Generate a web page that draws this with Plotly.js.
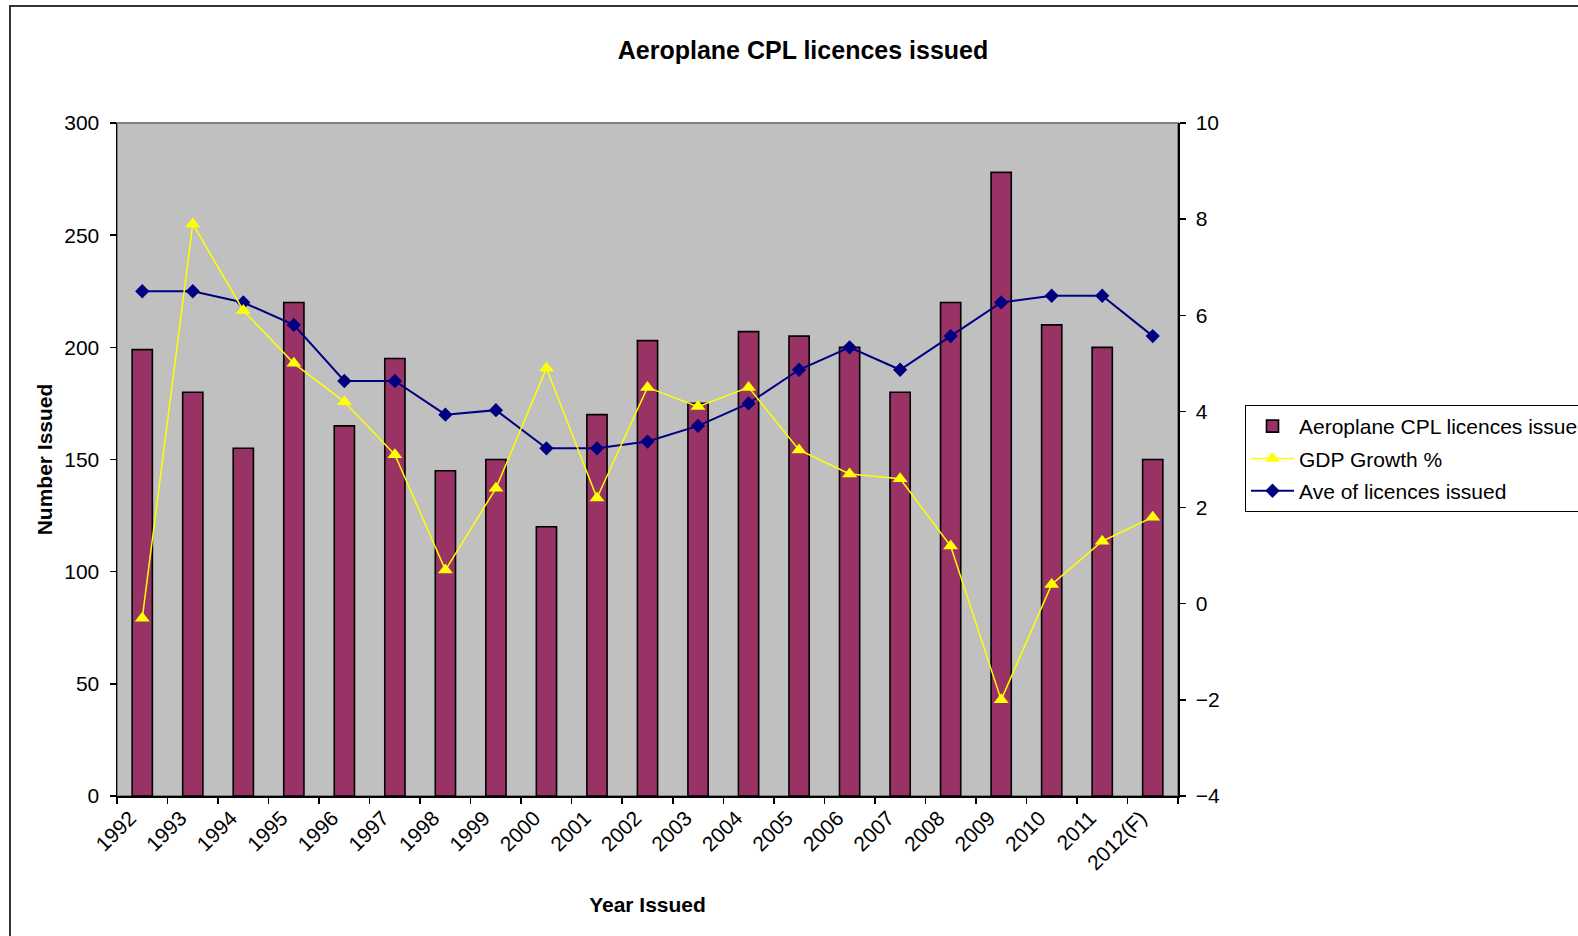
<!DOCTYPE html>
<html>
<head>
<meta charset="utf-8">
<script src="https://cdn.plot.ly/plotly-3.0.1.min.js"></script>
<style>html,body{margin:0;padding:0;background:#fff;}#chart{width:1578px;height:936px;}</style>
</head>
<body>
<div id="chart"></div>
<script>
const years = ["1992","1993","1994","1995","1996","1997","1998","1999","2000","2001","2002","2003","2004","2005","2006","2007","2008","2009","2010","2011","2012(F)"];
const licences = [199,180,155,220,165,195,145,150,120,170,203,175,207,205,200,180,220,278,210,200,150];
const gdpGrowth = [-0.3,7.9,6.1,5.0,4.2,3.1,0.7,2.4,4.9,2.2,4.5,4.1,4.5,3.2,2.7,2.6,1.2,-2.0,0.4,1.3,1.8];
const aveLicences = [225,225,220,210,185,185,170,172,155,155,158,165,175,190,200,190,205,220,223,223,205];
const leftTicks = [0,50,100,150,200,250,300];
const rightTicks = [-4,-2,0,2,4,6,8,10];

const xPos = years.map((y, i) => i + 0.5);
const labelPos = years.map((y, i) => i + 0.26);
const boundaries = years.map((y, i) => i).concat([years.length]);

const FONT = "Liberation Sans, Arial, sans-serif";

const traces = [
  {
    type: 'bar', name: 'Aeroplane CPL licences issued', legendgroup: 'g1',
    x: xPos, y: licences, yaxis: 'y',
    marker: {color: '#993366', line: {color: '#000000', width: 1.6}},
    hoverinfo: 'y'
  },
  {
    type: 'scatter', mode: 'lines+markers', name: 'GDP Growth %', legendgroup: 'g2',
    x: xPos, y: gdpGrowth, yaxis: 'y2',
    line: {color: '#FFFF00', width: 1.5},
    marker: {symbol: 'triangle-up', size: 13, color: '#FFFF00'}
  },
  {
    type: 'scatter', mode: 'lines+markers', name: 'Ave of licences issued', legendgroup: 'g3',
    x: xPos, y: aveLicences, yaxis: 'y',
    line: {color: '#000080', width: 2},
    marker: {symbol: 'diamond', size: 11, color: '#000080'}
  }
];

const L = 117, R = 1178, T = 123, B = 796, W = 1578, H = 936;
const pw = R - L, ph = B - T;
const px = v => (v - L) / pw;
const py = v => (B - v) / ph;

const layout = {
  width: W, height: H,
  margin: {l: L, r: W - R, t: T, b: H - B, pad: 0, autoexpand: false},
  paper_bgcolor: '#ffffff',
  plot_bgcolor: '#C0C0C0',
  font: {family: FONT, size: 21, color: '#000000'},
  showlegend: true,
  bargap: 0.6,
  title: {
    text: '<b>Aeroplane CPL licences issued</b>',
    font: {family: FONT, size: 25, color: '#000000'},
    xref: 'container', yref: 'container',
    x: 803 / W, y: 1 - 50 / H, xanchor: 'center', yanchor: 'middle'
  },
  xaxis: {
    range: [0, years.length],
    tickmode: 'array', tickvals: labelPos, ticktext: years,
    ticks: '', tickangle: -45,
    tickfont: {family: FONT, size: 21, color: '#000000'},
    showgrid: false, zeroline: false,
    showline: true, linecolor: '#000000', linewidth: 1.5,
    minor: {tickmode: 'array', tickvals: boundaries, ticks: 'outside', ticklen: 6, tickwidth: 1.5, tickcolor: '#000000', showgrid: false},
    title: {text: '<b>Year Issued</b>', font: {family: FONT, size: 21, color: '#000000'}, standoff: 24},
    fixedrange: true
  },
  yaxis: {
    range: [0, 300],
    tickmode: 'array', tickvals: leftTicks,
    ticks: 'outside', ticklen: 6, tickwidth: 1.5, tickcolor: '#000000',
    ticklabelstandoff: 6,
    tickfont: {family: FONT, size: 21, color: '#000000'},
    showgrid: false, zeroline: false,
    showline: true, linecolor: '#000000', linewidth: 1.5,
    title: {text: '<b>Number Issued</b>', font: {family: FONT, size: 21, color: '#000000'}, standoff: 6},
    fixedrange: true
  },
  yaxis2: {
    range: [-4, 10], overlaying: 'y', side: 'right',
    tickmode: 'array', tickvals: rightTicks,
    ticks: 'outside', ticklen: 6, tickwidth: 1.5, tickcolor: '#000000',
    ticklabelstandoff: 6,
    tickfont: {family: FONT, size: 21, color: '#000000'},
    showgrid: false, zeroline: false,
    showline: true, linecolor: '#000000', linewidth: 1.5,
    fixedrange: true
  },
  legend: {
    x: px(1245), y: py(405), xanchor: 'left', yanchor: 'top',
    bgcolor: '#ffffff', bordercolor: '#000000', borderwidth: 1,
    font: {family: FONT, size: 21, color: '#000000'},
    itemwidth: 43, traceorder: 'grouped', tracegroupgap: 2
  },
  shapes: [
    {type: 'rect', xref: 'paper', yref: 'paper', x0: 0, x1: 1, y0: 0, y1: 1,
     line: {color: '#808080', width: 2}, layer: 'below'},
    {type: 'rect', xref: 'paper', yref: 'paper', x0: px(10), x1: px(1700), y0: py(1100), y1: py(6),
     line: {color: '#333333', width: 2}, fillcolor: 'rgba(0,0,0,0)', layer: 'below'}
  ]
};

Plotly.newPlot('chart', traces, layout, {displayModeBar: false, staticPlot: true});
</script>
</body>
</html>
